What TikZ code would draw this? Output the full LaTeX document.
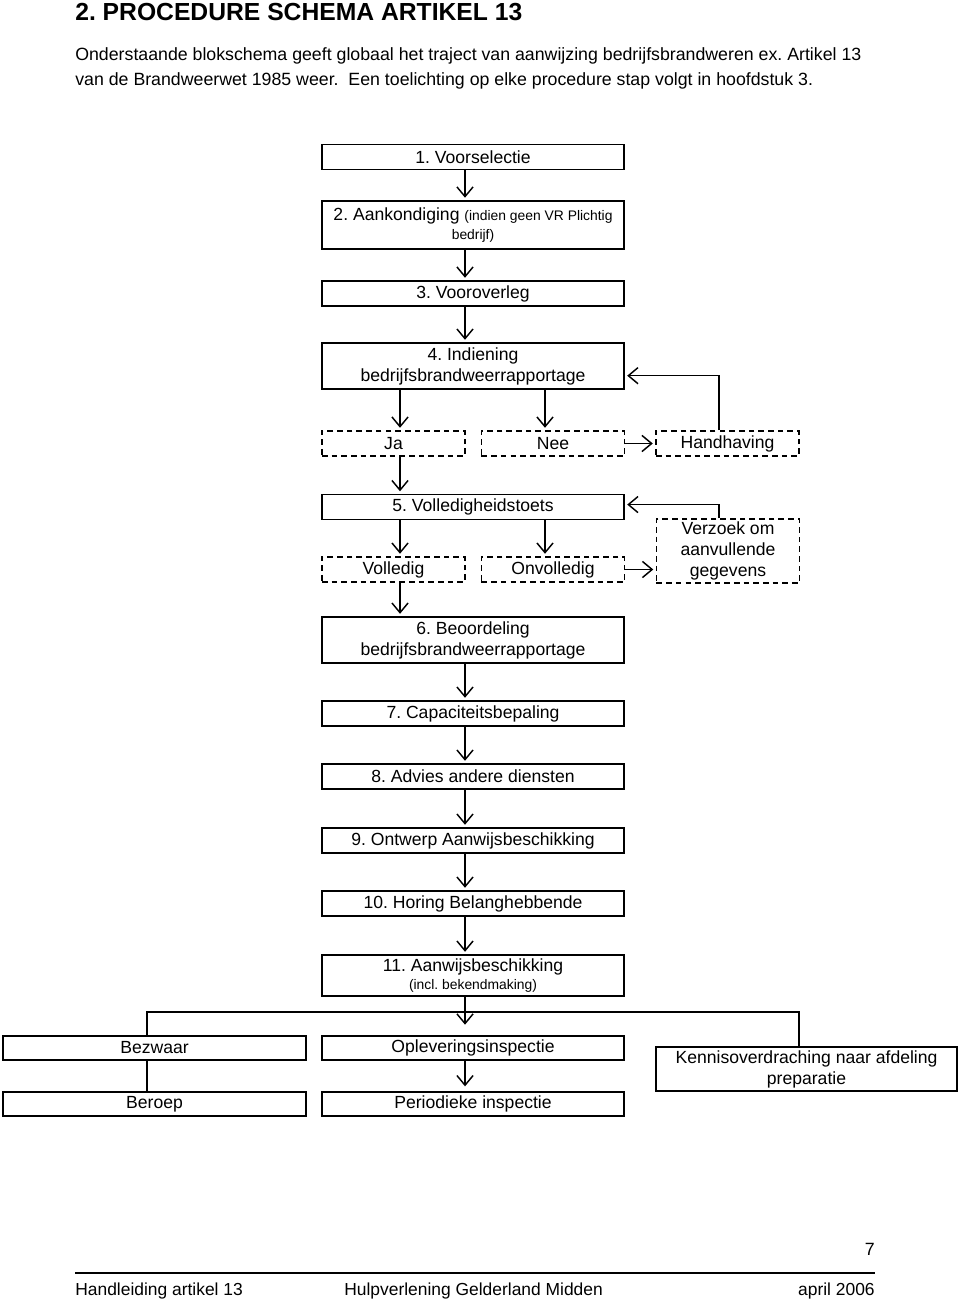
\documentclass[tikz,border=0pt]{standalone}
\usepackage{fontspec}
\setmainfont{Liberation Sans}
\usepackage{tikz}
\usetikzlibrary{arrows.meta}
\newcommand{\klein}{\fontsize{8.6}{10}\selectfont}
\tikzset{
  stap/.style={draw, line width=1pt, minimum width=187.2pt, minimum height=15.5pt,
    align=center, inner sep=1pt, font=\fontsize{10.9}{13}\selectfont},
  keuze/.style={stap, dash pattern=on 3.5pt off 2.5pt, minimum width=88.7pt},
  pijl/.style={-{Straight Barb[length=6pt,width=10pt,line width=0.9pt]}, line width=0.9pt, shorten >=1.5pt},
  lijn/.style={line width=1pt},
  tekst/.style={anchor=base west, inner sep=0pt, font=\fontsize{11}{13}\selectfont}
}
\begin{document}
\frenchspacing
\begin{tikzpicture}[x=0.62pt,y=-0.62pt]
  \useasboundingbox (0,0) rectangle (960,1299);
  % kop en inleiding
  \node[tekst, font=\bfseries\fontsize{15.3}{18}\selectfont] (kop) at (75,21) {2. PROCEDURE SCHEMA ARTIKEL 13};
  \node[tekst] (intro1) at (75,61) {Onderstaande blokschema geeft globaal het traject van aanwijzing bedrijfsbrandweren ex. Artikel 13};
  \node[tekst] (intro2) at (75,86) {van de Brandweerwet 1985 weer.\ \ Een toelichting op elke procedure stap volgt in hoofdstuk 3.};

  % hulplijnen voor de pijlen
  \coordinate (spine) at (465,0);
  \coordinate (colA) at (400,0);
  \coordinate (colB) at (545,0);
  \coordinate (colC) at (719,0);

  % stappen
  \node[stap] (b1) at (473,157) {1. Voorselectie};
  \node[stap, minimum height=29.8pt] (b2) at (473,225) {2. Aankondiging {\klein (indien geen VR Plichtig}\\[-1pt]{\klein bedrijf)}};
  \node[stap] (b3) at (473,293.5) {3. Vooroverleg};
  \node[stap, minimum height=28.5pt] (b4) at (473,366) {4. Indiening\\bedrijfsbrandweerrapportage};
  \node[keuze] (ja) at (393.5,443.5) {Ja};
  \node[keuze] (nee) at (553,443.5) {Nee};
  \node[keuze] (hand) at (727.5,443.5) {Handhaving};
  \node[stap] (b5) at (473,507) {5. Volledigheidstoets};
  \node[keuze] (voll) at (393.5,569.5) {Volledig};
  \node[keuze] (onv) at (553,569.5) {Onvolledig};
  \node[keuze, minimum height=39.7pt] (verz) at (728,551) {Verzoek om\\aanvullende\\gegevens};
  \node[stap, minimum height=28.5pt] (b6) at (473,640) {6. Beoordeling\\bedrijfsbrandweerrapportage};
  \node[stap] (b7) at (473,713.5) {7. Capaciteitsbepaling};
  \node[stap] (b8) at (473,776.5) {8. Advies andere diensten};
  \node[stap] (b9) at (473,840.5) {9. Ontwerp Aanwijsbeschikking};
  \node[stap] (b10) at (473,903.5) {10. Horing Belanghebbende};
  \node[stap, minimum height=25.4pt] (b11) at (473,975.5) {11. Aanwijsbeschikking\\[-2pt]{\klein (incl. bekendmaking)}};
  \node[stap, minimum width=187.9pt, minimum height=14.9pt] (bezw) at (154.5,1048) {Bezwaar};
  \node[stap, minimum width=187.9pt, minimum height=14.9pt] (ber) at (154.5,1104) {Beroep};
  \node[stap, minimum height=14.9pt] (opl) at (473,1048) {Opleveringsinspectie};
  \node[stap, minimum height=14.9pt] (per) at (473,1104) {Periodieke inspectie};
  \node[stap, minimum width=186.6pt, minimum height=27.3pt] (kenn) at (806.5,1069) {Kennisoverdraching naar afdeling\\preparatie};

  % pijlen
  \draw[pijl] (b1.south -| spine) -- (b2.north -| spine);
  \draw[pijl] (b2.south -| spine) -- (b3.north -| spine);
  \draw[pijl] (b3.south -| spine) -- (b4.north -| spine);
  \draw[pijl] (b4.south -| colA) -- (ja.north -| colA);
  \draw[pijl] (b4.south -| colB) -- (nee.north -| colB);
  \draw[pijl] (nee.east) -- (hand.west);
  \draw[pijl] (hand.north -| colC) |- ([yshift=-6pt]b4.east);
  \draw[pijl] (ja.south -| colA) -- (b5.north -| colA);
  \draw[pijl] (b5.south -| colA) -- (voll.north -| colA);
  \draw[pijl] (b5.south -| colB) -- (onv.north -| colB);
  \draw[pijl] (onv.east) -- (verz.west |- onv.east);
  \draw[pijl] (verz.north -| colC) |- ([yshift=1.5pt]b5.east);
  \draw[pijl] (voll.south -| colA) -- (b6.north -| colA);
  \draw[pijl] (b6.south -| spine) -- (b7.north -| spine);
  \draw[pijl] (b7.south -| spine) -- (b8.north -| spine);
  \draw[pijl] (b8.south -| spine) -- (b9.north -| spine);
  \draw[pijl] (b9.south -| spine) -- (b10.north -| spine);
  \draw[pijl] (b10.south -| spine) -- (b11.north -| spine);

  % vertakking onderaan
  \coordinate (tl) at (147,1012);
  \coordinate (tr) at (799,1012);
  \draw[lijn] (bezw.north -| tl) -- (tl) -- (tr) -- (kenn.north -| tr);
  \draw[pijl, shorten >=6.5pt] (b11.south -| spine) -- (opl.north -| spine);
  \draw[lijn] (bezw.south -| tl) -- (ber.north -| tl);
  \draw[pijl, shorten >=3pt] (opl.south -| spine) -- (per.north -| spine);

  % voettekst
  \node[anchor=base east, inner sep=0pt, font=\fontsize{11}{13}\selectfont] (pagina) at (875,1255) {7};
  \coordinate (vl) at (75,1273);
  \coordinate (vr) at (875,1273);
  \draw[line width=1.2pt] (vl) -- (vr);
  \node[tekst, font=\fontsize{10.8}{13}\selectfont] (voet1) at (75,1295) {Handleiding artikel 13};
  \node[tekst, font=\fontsize{10.8}{13}\selectfont] (voet2) at (344,1295) {Hulpverlening Gelderland Midden};
  \node[anchor=base east, inner sep=0pt, font=\fontsize{10.8}{13}\selectfont] (voet3) at (875,1295) {april 2006};
\end{tikzpicture}
\end{document}
